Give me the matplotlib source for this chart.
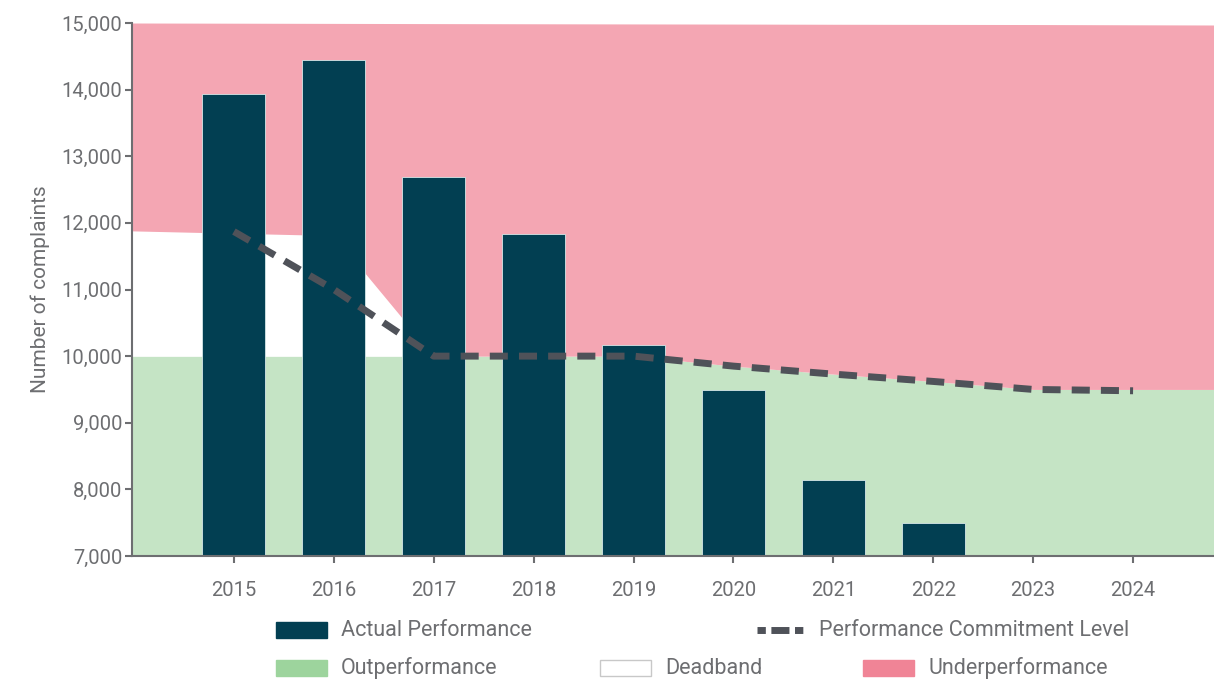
import numpy as np
import matplotlib
matplotlib.use('Agg')
from matplotlib import pyplot as plt
from matplotlib.patches import Rectangle
from matplotlib.lines import Line2D

# values
years = ['2015', '2016', '2017', '2018', '2019', '2020', '2021', '2022', '2023', '2024']
actual = [13940, 14450, 12690, 11835, 10170, 9490, 8140, 7495, np.nan, np.nan]
commitment = [11870, 11000, 10000, 10000, 10000, 9850, 9730, 9620, 9500, 9480]

# background bands (x in category units, -1 is the y axis, 9.81 the right edge)
band_x = [-1.02, 1, 2, 4, 5, 6, 7, 8, 9.81]
out_top = [10000, 10000, 10000, 10000, 9850, 9730, 9620, 9500, 9500]
dead_top = [11880, 11810, 10000, 10000, 9850, 9730, 9620, 9500, 9500]
under_top = [15000, 14994, 14991, 14986, 14984, 14981, 14979, 14977, 14970]

bar_col = '#023f52'
line_col = '#4f5259'
green = '#c5e4c5'
pink = '#f4a6b3'
text_col = '#6d6e71'

plt.rcParams['font.family'] = ['Roboto', 'DejaVu Sans']

fig = plt.figure(figsize=(12.14, 6.79), dpi=100)
ax = fig.add_axes([132 / 1214, 1 - 556 / 679, 1 - 132 / 1214, (556 - 23) / 679])

x = np.arange(len(years))
ax.fill_between(band_x, 7000, out_top, color=green, lw=0, zorder=0)
ax.fill_between(band_x, out_top, dead_top, color='white', lw=0, zorder=0)
ax.fill_between(band_x, dead_top, under_top, color=pink, lw=0, zorder=0)

ax.bar(x, actual, width=0.63, color=bar_col, edgecolor='#d5e6e8', linewidth=0.6, zorder=2)
ax.plot(x, commitment, color=line_col, lw=5, dashes=(2.6, 1.6), zorder=3,
        solid_capstyle='butt', dash_capstyle='butt')

ax.set_xlim(-1.02, 9.81)
ax.set_ylim(7000, 15000)
ax.set_xticks(x)
ax.set_xticklabels(years)
ax.set_yticks(np.arange(7000, 15001, 1000))
ax.set_yticklabels(['{:,}'.format(v) for v in range(7000, 15001, 1000)])
ax.tick_params(axis='both', colors='#6d6e71', labelcolor=text_col,
               length=5, width=1.5, direction='out')
ax.tick_params(axis='x', pad=13, labelsize=14.5)
ax.tick_params(axis='y', pad=2, labelsize=14.5)
for s in ['top', 'right']:
    ax.spines[s].set_visible(False)
for s in ['left', 'bottom']:
    ax.spines[s].set_color('#6d6e71')
    ax.spines[s].set_linewidth(1.5)
ax.set_ylabel('Number of complaints', fontsize=15, color=text_col, labelpad=8)

# legend, laid out by hand as in the original
def legend_patch(px, py, fc, label, ec=None):
    fig.patches.append(Rectangle((px / 1214, 1 - (py + 8) / 679), 51 / 1214, 16 / 679,
                                 transform=fig.transFigure, facecolor=fc,
                                 edgecolor=ec if ec else fc, linewidth=1))
    fig.text((px + 65) / 1214, 1 - py / 679, label, fontsize=15.5, color=text_col,
             va='center', ha='left')

legend_patch(276, 630, bar_col, 'Actual Performance')
legend_patch(276, 668, '#9dd49d', 'Outperformance')
legend_patch(600, 668, 'white', 'Deadband', ec='#c8c8c8')
legend_patch(863, 668, '#f08496', 'Underperformance')
fig.lines.append(Line2D([757 / 1214, 806 / 1214], [1 - 630 / 679, 1 - 630 / 679],
                        transform=fig.transFigure, color=line_col, lw=5,
                        dashes=(1.2, 0.8, 2.6, 0.8)))
fig.text(819 / 1214, 1 - 630 / 679, 'Performance Commitment Level', fontsize=15.5,
         color=text_col, va='center', ha='left')

fig.savefig('out.png', dpi=100)
